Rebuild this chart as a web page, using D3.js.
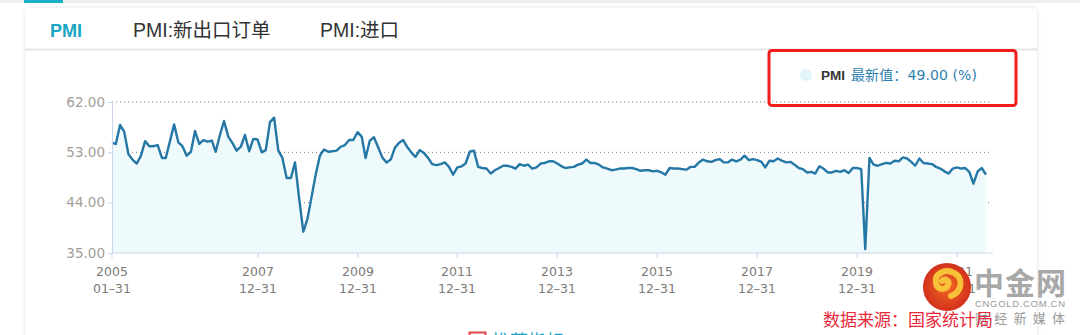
<!DOCTYPE html>
<html>
<head>
<meta charset="utf-8">
<script src="https://cdn.jsdelivr.net/npm/d3@7"></script>
<style>
  body { margin: 0; background: #fff; overflow: hidden; }
  svg { display: block; font-family: "DejaVu Sans", "Noto Sans CJK SC", sans-serif; }
</style>
</head>
<body>
<div id="chart"></div>
<script>
// tabs over the chart
var tabNames = ["PMI", "PMI:新出口订单", "PMI:进口"];
var tabX = [50, 133, 320];

// monthly PMI, first month is 2005-01
var startMonth = new Date(2005, 0, 1);
var pmi2005 = [54.7, 54.5, 57.9, 56.7, 52.7, 51.7, 51.0, 52.4, 55.0, 54.1, 54.1, 54.3];
var pmi2006 = [52.0, 52.0, 55.0, 58.0, 54.8, 54.1, 52.4, 53.1, 56.8, 54.5, 55.2, 54.9];
var pmi2007 = [55.1, 53.1, 56.1, 58.6, 55.8, 54.7, 53.3, 54.0, 56.1, 53.2, 55.4, 55.3];
var pmi2008 = [53.0, 53.4, 58.4, 59.2, 53.3, 52.0, 48.4, 48.4, 51.2, 44.6, 38.8, 41.2];
var pmi2009 = [45.3, 49.0, 52.4, 53.5, 53.1, 53.2, 53.3, 54.0, 54.3, 55.2, 55.2, 56.6];
var pmi2010 = [55.8, 52.0, 55.1, 55.7, 53.9, 52.1, 51.2, 51.7, 53.8, 54.7, 55.2, 53.9];
var pmi2011 = [52.9, 52.2, 53.4, 52.9, 52.0, 50.9, 50.7, 50.9, 51.2, 50.4, 49.0, 50.3];
var pmi2012 = [50.5, 51.0, 53.1, 53.3, 50.4, 50.2, 50.1, 49.2, 49.8, 50.2, 50.6, 50.6];
var pmi2013 = [50.4, 50.1, 50.9, 50.6, 50.8, 50.1, 50.3, 51.0, 51.1, 51.4, 51.4, 51.0];
var pmi2014 = [50.5, 50.2, 50.3, 50.4, 50.8, 51.0, 51.7, 51.1, 51.1, 50.8, 50.3, 50.1];
var pmi2015 = [49.8, 49.9, 50.1, 50.1, 50.2, 50.2, 50.0, 49.7, 49.8, 49.8, 49.6, 49.7];
var pmi2016 = [49.4, 49.0, 50.2, 50.1, 50.1, 50.0, 49.9, 50.4, 50.4, 51.2, 51.7, 51.4];
var pmi2017 = [51.3, 51.6, 51.8, 51.2, 51.2, 51.7, 51.4, 51.7, 52.4, 51.6, 51.8, 51.6];
var pmi2018 = [51.3, 50.3, 51.5, 51.4, 51.9, 51.5, 51.2, 51.3, 50.8, 50.2, 50.0, 49.4];
var pmi2019 = [49.5, 49.2, 50.5, 50.1, 49.4, 49.4, 49.7, 49.5, 49.8, 49.3, 50.2, 50.2];
var pmi2020 = [50.0, 35.7, 52.0, 50.8, 50.6, 50.9, 51.1, 51.0, 51.5, 51.4, 52.1, 51.9];
var pmi2021 = [51.3, 50.6, 51.9, 51.1, 51.0, 50.9, 50.4, 50.1, 49.6, 49.2, 50.1, 50.3];
var pmi2022 = [50.1, 50.2, 49.5, 47.4, 49.6, 50.2, 49.0];

var yTicks = [35, 44, 53, 62];
var xTickDates = ["2005-01-31", "2007-12-31", "2009-12-31", "2011-12-31", "2013-12-31",
                  "2015-12-31", "2017-12-31", "2019-12-31", "2021-12-31"];
var latestLabel = "最新值：49.00 (%)";
var sourceLabel = "数据来源：国家统计局";

var W = 1080, H = 335;
var svg = d3.select("#chart").append("svg").attr("width", W).attr("height", H);

// page strip + card
svg.append("rect").attr("x", 0).attr("y", 0).attr("width", W).attr("height", 3).attr("fill", "#efefef");
svg.append("rect").attr("x", 24).attr("y", 0).attr("width", 39).attr("height", 3).attr("fill", "#1ab0c8");

var defs = svg.append("defs");
var sh = defs.append("filter").attr("id", "shadow").attr("x", "-5%").attr("y", "-5%").attr("width", "110%").attr("height", "110%");
sh.append("feDropShadow").attr("dx", 0).attr("dy", 0).attr("stdDeviation", 2).attr("flood-color", "#000").attr("flood-opacity", 0.12);

svg.append("rect").attr("x", 25).attr("y", 8).attr("width", 1012).attr("height", 360)
  .attr("rx", 6).attr("fill", "#fff").attr("filter", "url(#shadow)");
svg.append("line").attr("x1", 25).attr("x2", 1037).attr("y1", 49.5).attr("y2", 49.5)
  .attr("stroke", "#e6e6e6").attr("stroke-width", 2);

svg.selectAll("text.tab").data(tabNames).enter().append("text")
  .attr("class", "tab")
  .attr("x", function(d, i) { return tabX[i]; })
  .attr("y", 37)
  .attr("font-family", "Liberation Sans, Noto Sans CJK SC, sans-serif")
  .attr("font-size", function(d, i) { return i === 0 ? 18 : 19.5; })
  .attr("font-weight", function(d, i) { return i === 0 ? "bold" : "normal"; })
  .attr("fill", function(d, i) { return i === 0 ? "#1aa6c4" : "#333"; })
  .text(function(d) { return d; });

// flatten the data into dated points
var allValues = [].concat(pmi2005, pmi2006, pmi2007, pmi2008, pmi2009, pmi2010, pmi2011, pmi2012,
  pmi2013, pmi2014, pmi2015, pmi2016, pmi2017, pmi2018, pmi2019, pmi2020, pmi2021, pmi2022);
var data = allValues.map(function(v, i) {
  var d = d3.timeMonth.offset(startMonth, i + 1);
  return { date: d3.timeDay.offset(d, -1), value: v };
});

var x = d3.scaleTime()
  .domain([data[0].date, data[data.length - 1].date])
  .range([112, 986]);
var y = d3.scaleLinear().domain([35, 62]).range([253, 102]);
var plotRight = 992;

// grid
svg.selectAll("line.grid").data(yTicks.filter(function(t) { return t > 35; })).enter().append("line")
  .attr("x1", 112).attr("x2", plotRight)
  .attr("y1", function(d) { return y(d); }).attr("y2", function(d) { return y(d); })
  .attr("stroke", "#777").attr("stroke-width", 1).attr("stroke-dasharray", "1,3");

// area + line
var area = d3.area().x(function(d) { return x(d.date); }).y0(y(35)).y1(function(d) { return y(d.value); });
var line = d3.line().x(function(d) { return x(d.date); }).y(function(d) { return y(d.value); });
svg.append("path").datum(data).attr("d", area).attr("fill", "#eefafc");
svg.append("path").datum(data).attr("d", line).attr("fill", "none")
  .attr("stroke", "#2577a6").attr("stroke-width", 2.4).attr("stroke-linejoin", "round");

// y axis
var yAxis = d3.axisLeft(y).tickValues(yTicks).tickSize(4).tickFormat(d3.format(".2f"));
var gy = svg.append("g").attr("transform", "translate(112,0)").call(yAxis);
gy.select(".domain").attr("stroke", "#ccd6eb");
gy.selectAll(".tick line").attr("stroke", "#ccd6eb");
gy.selectAll(".tick text").attr("fill", "#a39d98").attr("font-size", 13.5)
  .attr("font-family", "DejaVu Sans, sans-serif").attr("x", -7);

// x axis
var parse = d3.timeParse("%Y-%m-%d");
var tickDates = xTickDates.map(parse);
var gx = svg.append("g").attr("transform", "translate(0,253)");
gx.append("line").attr("x1", 112).attr("x2", plotRight + 1).attr("stroke", "#ccd6eb");
var xt = gx.selectAll("g.xt").data(tickDates).enter().append("g")
  .attr("transform", function(d) { return "translate(" + Math.round(x(d)) + ",0)"; });
xt.append("line").attr("y2", 5).attr("stroke", "#ccd6eb");
xt.append("text").attr("y", 23).attr("text-anchor", "middle").attr("fill", "#807a76")
  .attr("font-size", 12.5).text(d3.timeFormat("%Y"));
xt.append("text").attr("y", 40).attr("text-anchor", "middle").attr("fill", "#807a76")
  .attr("font-size", 12.5).text(function(d) { return d3.timeFormat("%m-%d")(d).replace("-", "–"); });

// legend
svg.append("circle").attr("cx", 806).attr("cy", 75).attr("r", 6).attr("fill", "#e3f5f8");
svg.append("text").attr("x", 821).attr("y", 80).attr("font-size", 13.5).attr("font-weight", "bold")
  .attr("fill", "#333").attr("font-family", "Liberation Sans, sans-serif").text("PMI");
svg.append("text").attr("x", 851).attr("y", 80).attr("font-size", 14)
  .attr("fill", "#2f7fb0").attr("font-family", "DejaVu Sans, Noto Sans CJK SC, sans-serif")
  .attr("textLength", 126).text(latestLabel);
svg.append("rect").attr("x", 769).attr("y", 50.5).attr("width", 247).attr("height", 55)
  .attr("rx", 3).attr("fill", "none").attr("stroke", "#f41b1b").attr("stroke-width", 3);

// watermark
var grad = defs.append("radialGradient").attr("id", "logoGrad");
grad.append("stop").attr("offset", "0%").attr("stop-color", "#f26a22");
grad.append("stop").attr("offset", "100%").attr("stop-color", "#d2301c");
svg.append("circle").attr("cx", 947).attr("cy", 287).attr("r", 24).attr("fill", "url(#logoGrad)");
svg.append("path")
  .attr("d", "M951,296 C962,292 964,278 954,273 C945,268 934,274 936,283 C937,290 946,291 948,285 C950,281 945,278 942,281")
  .attr("fill", "none").attr("stroke", "#f8c13a").attr("stroke-width", 6).attr("stroke-linecap", "round");
svg.append("text").attr("x", 974).attr("y", 294).attr("font-size", 30).attr("font-weight", "bold")
  .attr("fill", "#a8a8a8").attr("font-family", "Noto Sans CJK SC, sans-serif").attr("textLength", 92).text("中金网");
svg.append("text").attr("x", 975).attr("y", 307).attr("font-size", 9.5)
  .attr("fill", "#9a9a9a").attr("font-family", "Liberation Sans, sans-serif").attr("textLength", 90).text("CNGOLD.COM.CN");
svg.append("text").attr("x", 975).attr("y", 323).attr("font-size", 13)
  .attr("fill", "#9a9a9a").attr("font-family", "Noto Sans CJK SC, sans-serif").attr("textLength", 90).text("财经新媒体");
svg.append("text").attr("x", 823).attr("y", 326).attr("font-size", 17)
  .attr("fill", "#e8283a").attr("font-family", "Noto Sans CJK SC, sans-serif").text(sourceLabel);

// next block, cut off by the frame
svg.append("rect").attr("x", 469.5).attr("y", 332.5).attr("width", 16).attr("height", 16)
  .attr("fill", "none").attr("stroke", "#e0474a").attr("stroke-width", 2);
svg.append("text").attr("x", 492).attr("y", 348).attr("font-size", 18)
  .attr("fill", "#1aa6c4").attr("font-family", "Noto Sans CJK SC, sans-serif").text("推荐指标");
</script>
</body>
</html>
